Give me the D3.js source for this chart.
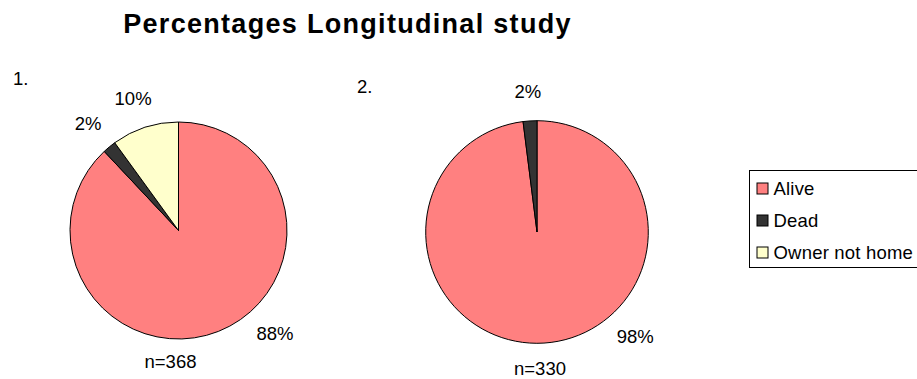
<!DOCTYPE html>
<html>
<head>
<meta charset="utf-8">
<script src="https://cdn.jsdelivr.net/npm/d3@7/dist/d3.min.js"></script>
<style>
  html, body { margin: 0; padding: 0; background: #ffffff; }
  svg { display: block; font-family: "Liberation Sans", Arial, sans-serif; }
</style>
</head>
<body>
<svg id="chart" width="917" height="379"></svg>
<script>
// Outcome categories and their fill colours
const categories = ["Alive", "Dead", "Owner not home"];
const categoryColors = ["#ff8080", "#333333", "#ffffcc"];

// Percentages per survey round
const study1 = [88, 2, 10];
const study2 = [98, 2, 0];

// Sample size and panel caption for each round
const sampleSizes = [368, 330];
const panelLabels = ["1.", "2."];

const titleText = "Percentages Longitudinal study";

// Panel geometry
const panels = [
  { values: study1, cx: 178.5, cy: 230.5, r: 108.5, capX: 13, capY: 85, nDx: -8, nDy: 29 },
  { values: study2, cx: 537, cy: 232, r: 111.3, capX: 357, capY: 93, nDx: 3, nDy: 32 }
];

const svg = d3.select("#chart");
const FONT = 18.5;

svg.append("text")
  .attr("x", 347.5)
  .attr("y", 33)
  .attr("text-anchor", "middle")
  .attr("font-weight", "bold")
  .attr("font-size", 27)
  .attr("letter-spacing", 1.3)
  .attr("fill", "#000")
  .text(titleText);

const color = d3.scaleOrdinal().domain(categories).range(categoryColors);
const pie = d3.pie().sort(null).value(d => d.value);

panels.forEach((p, i) => {
  const data = categories.map((c, k) => ({ category: c, value: p.values[k] }));
  const arcs = pie(data).filter(a => a.data.value > 0);
  const arc = d3.arc().innerRadius(0).outerRadius(p.r);

  const g = svg.append("g").attr("transform", `translate(${p.cx},${p.cy})`);

  g.selectAll("path.slice")
    .data(arcs)
    .join("path")
    .attr("class", "slice")
    .attr("d", arc)
    .attr("fill", d => color(d.data.category))
    .attr("stroke", "#000")
    .attr("stroke-width", 1)
    .attr("stroke-linejoin", "round");

  // Percentage labels sit just outside the rim; the largest slice's label
  // is placed in the lower-right like the spreadsheet default.
  const gap = 20;
  const labelH = 18;
  const maxVal = d3.max(arcs, a => a.data.value);
  g.selectAll("text.pct")
    .data(arcs)
    .join("text")
    .attr("class", "pct")
    .attr("font-size", FONT)
    .attr("fill", "#000")
    .attr("text-anchor", "middle")
    .text(d => d.data.value + "%")
    .each(function (d) {
      const ang = d.data.value === maxVal ? (139 * Math.PI / 180) : (d.startAngle + d.endAngle) / 2;
      const ux = Math.sin(ang), uy = -Math.cos(ang);
      const w = this.getComputedTextLength();
      const x = (p.r + gap) * ux + ux * w / 2;
      const y = (p.r + gap) * uy + uy * labelH / 2;
      d3.select(this).attr("x", x).attr("y", y + FONT * 0.3);
    });

  // Sample size under the pie
  g.append("text")
    .attr("x", p.nDx)
    .attr("y", p.r + p.nDy)
    .attr("text-anchor", "middle")
    .attr("font-size", FONT)
    .attr("fill", "#000")
    .text("n=" + sampleSizes[i]);

  // Panel caption
  svg.append("text")
    .attr("x", p.capX)
    .attr("y", p.capY)
    .attr("font-size", FONT)
    .attr("fill", "#000")
    .text(panelLabels[i]);
});

// Legend
const legend = svg.append("g").attr("transform", "translate(749.5,170.5)");
legend.append("rect")
  .attr("width", 200)
  .attr("height", 97)
  .attr("fill", "#fff")
  .attr("stroke", "#000")
  .attr("stroke-width", 1);

const rowY = d3.scalePoint().domain(categories).range([18, 82]);
const item = legend.selectAll("g.item")
  .data(categories)
  .join("g")
  .attr("class", "item")
  .attr("transform", d => `translate(0,${rowY(d)})`);

item.append("rect")
  .attr("x", 7.5)
  .attr("y", -5.5)
  .attr("width", 11)
  .attr("height", 11)
  .attr("fill", d => color(d))
  .attr("stroke", "#000")
  .attr("stroke-width", 1);

item.append("text")
  .attr("x", 24)
  .attr("y", 6.5)
  .attr("font-size", FONT)
  .attr("letter-spacing", 0.2)
  .attr("fill", "#000")
  .text(d => d);
</script>
</body>
</html>
